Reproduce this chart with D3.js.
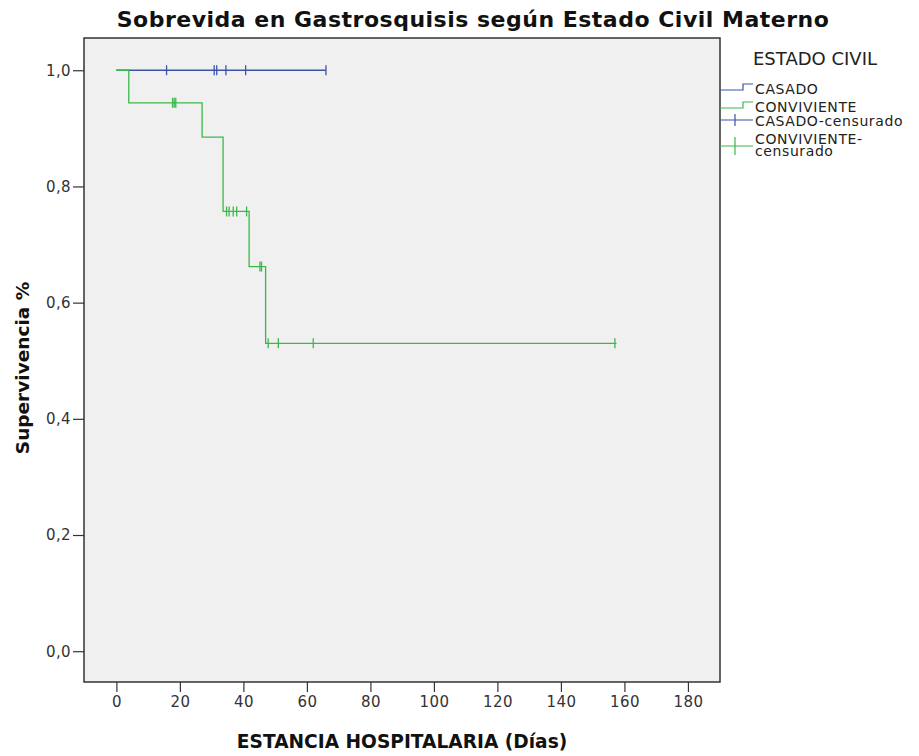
<!doctype html>
<html>
<head>
<meta charset="utf-8">
<script src="https://d3js.org/d3.v7.min.js"></script>
<style>
  body { margin: 0; background: #fff; }
  svg { display: block; }
</style>
</head>
<body>
<svg width="919" height="756"></svg>
<script>
// Kaplan-Meier data
const casadoTimes = [0, 66];
const casadoSurv = [1.0, 1.0];
const casadoCensored = [15.8, 30.8, 31.6, 34.5, 40.7, 66.0];

const convTimes = [0, 3.9, 27.0, 33.6, 41.8, 47.0, 157.5];
const convSurv = [1.0, 0.944, 0.885, 0.757, 0.662, 0.530, 0.530];
const convCensored = [17.7, 18.2, 18.7, 34.7, 35.5, 36.8, 37.9, 41.0, 45.2, 45.7, 47.8, 51.0, 62.0, 157.0];

const xTicks = [0, 20, 40, 60, 80, 100, 120, 140, 160, 180];
const yTicks = [0, 0.2, 0.4, 0.6, 0.8, 1.0];
const legendLabels = ["CASADO", "CONVIVIENTE", "CASADO-censurado", "CONVIVIENTE-", "censurado"];

const blue = "#3b54a6", green = "#3cb84a";

var svg = d3.select("svg");
var pLeft = 84, pRight = 720, pTop = 38, pBottom = 682;

var x = d3.scaleLinear().domain([-10.2, 190.1]).range([pLeft, pRight]);
var y = d3.scaleLinear().domain([-0.053, 1.0555]).range([pBottom, pTop]);

// plot background
svg.append("rect")
    .attr("x", pLeft).attr("y", pTop)
    .attr("width", pRight - pLeft).attr("height", pBottom - pTop)
    .attr("fill", "#f0f0f0");

// step curves
var line = d3.line()
    .x(function(d) { return x(d[0]); })
    .y(function(d) { return y(d[1]); })
    .curve(d3.curveStepAfter);

function survAt(times, surv, t) {
    var s = surv[0];
    for (var i = 0; i < times.length; i++) if (times[i] <= t) s = surv[i];
    return s;
}

svg.append("path")
    .datum(d3.zip(casadoTimes, casadoSurv))
    .attr("d", line).attr("fill", "none")
    .attr("stroke", blue).attr("stroke-width", 1.3);

svg.append("path")
    .datum(d3.zip(convTimes, convSurv))
    .attr("d", line).attr("fill", "none")
    .attr("stroke", green).attr("stroke-width", 1.3);

// censor marks
svg.append("g").selectAll("line")
    .data(casadoCensored)
    .enter().append("line")
      .attr("x1", function(d) { return x(d); }).attr("x2", function(d) { return x(d); })
      .attr("y1", function(d) { return y(survAt(casadoTimes, casadoSurv, d)) - 5; })
      .attr("y2", function(d) { return y(survAt(casadoTimes, casadoSurv, d)) + 5; })
      .attr("stroke", blue).attr("stroke-width", 1.3);

svg.append("g").selectAll("line")
    .data(convCensored)
    .enter().append("line")
      .attr("x1", function(d) { return x(d); }).attr("x2", function(d) { return x(d); })
      .attr("y1", function(d) { return y(survAt(convTimes, convSurv, d)) - 5; })
      .attr("y2", function(d) { return y(survAt(convTimes, convSurv, d)) + 5; })
      .attr("stroke", green).attr("stroke-width", 1.3);

// frame
svg.append("rect")
    .attr("x", pLeft).attr("y", pTop)
    .attr("width", pRight - pLeft).attr("height", pBottom - pTop)
    .attr("fill", "none").attr("stroke", "#333").attr("stroke-width", 1.5);

// axes
var xAxis = svg.append("g")
    .attr("transform", "translate(0," + pBottom + ")")
    .call(d3.axisBottom(x).tickValues(xTicks).tickSize(10).tickPadding(4).tickFormat(d3.format("d")));
xAxis.select(".domain").remove();

var yAxis = svg.append("g")
    .attr("transform", "translate(" + pLeft + ",0)")
    .call(d3.axisLeft(y).tickValues(yTicks).tickSize(11).tickPadding(2)
        .tickFormat(function(d) { return d.toFixed(1).replace(".", ","); }));
yAxis.select(".domain").remove();

svg.selectAll(".tick line").attr("stroke", "#333").attr("stroke-width", 1.2);
svg.selectAll(".tick text")
    .attr("font-family", "DejaVu Sans").attr("font-size", 15)
    .attr("letter-spacing", 0.4).attr("fill", "#333");

// titles
svg.append("text")
    .attr("x", 473).attr("y", 27)
    .attr("text-anchor", "middle")
    .attr("font-family", "DejaVu Sans").attr("font-weight", "bold").attr("font-size", 22)
    .attr("letter-spacing", 0.5)
    .attr("fill", "#111")
    .text("Sobrevida en Gastrosquisis según Estado Civil Materno");

svg.append("text")
    .attr("x", 402).attr("y", 748)
    .attr("text-anchor", "middle")
    .attr("font-family", "DejaVu Sans").attr("font-weight", "bold").attr("font-size", 18.6)
    .attr("fill", "#111")
    .text("ESTANCIA HOSPITALARIA (Días)");

svg.append("text")
    .attr("transform", "translate(29,368) rotate(-90)")
    .attr("text-anchor", "middle")
    .attr("font-family", "DejaVu Sans").attr("font-weight", "bold").attr("font-size", 18.5)
    .attr("fill", "#111")
    .text("Supervivencia %");

// legend
var lg = svg.append("g").attr("font-family", "DejaVu Sans").attr("fill", "#222");
lg.append("text").attr("x", 753).attr("y", 65).attr("font-size", 18).text("ESTADO CIVIL");

// step glyphs
[[90, blue], [108, green]].forEach(function(s) {
    lg.append("path")
      .attr("d", "M720," + s[0] + "H743V" + (s[0] - 6) + "H753")
      .attr("fill", "none").attr("stroke", s[1]).attr("stroke-width", 1.2);
});
// censor glyphs
[[120, 6, blue], [146, 9, green]].forEach(function(s) {
    lg.append("path")
      .attr("d", "M720," + s[0] + "H753M735," + (s[0] - s[1]) + "V" + (s[0] + s[1]))
      .attr("fill", "none").attr("stroke", s[2]).attr("stroke-width", 1.2);
});

var rows = [94, 112, 125.5, 144, 156];
legendLabels.forEach(function(label, i) {
    lg.append("text").attr("x", 755).attr("y", rows[i])
        .attr("font-size", 14).attr("letter-spacing", 0.6).text(label);
});
</script>
</body>
</html>
